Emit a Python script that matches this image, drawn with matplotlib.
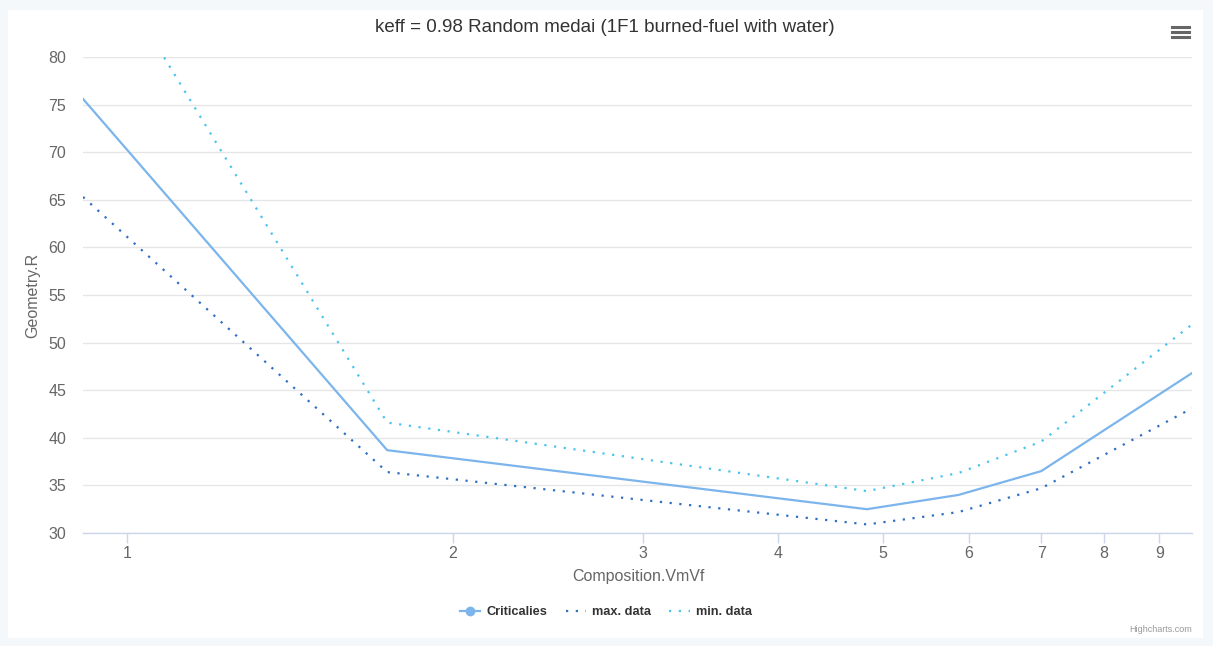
import matplotlib
matplotlib.use("Agg")
import matplotlib.pyplot as plt
from matplotlib.lines import Line2D
from matplotlib.patches import Rectangle

plt.rcParams['font.family'] = ['Liberation Sans', 'DejaVu Sans']

# Data
x_vals = [0.910, 1.739, 4.83, 5.87, 7.0, 9.65]
criticalies = [75.6, 38.7, 32.5, 34.0, 36.5, 46.8]
max_data = [65.3, 36.4, 30.9, 32.2, 34.7, 43.1]
min_data = [93.9, 41.6, 34.4, 36.3, 39.6, 51.9]
x_ticks = [1, 2, 3, 4, 5, 6, 7, 8, 9]
y_ticks = [30, 35, 40, 45, 50, 55, 60, 65, 70, 75, 80]

title = "keff = 0.98 Random medai (1F1 burned-fuel with water)"
x_title = "Composition.VmVf"
y_title = "Geometry.R"

W, H = 1213, 646
fig = plt.figure(figsize=(W / 100, H / 100), dpi=100)
fig.patch.set_facecolor('#f5f8fa')
card = Rectangle((8 / W, 1 - 638 / H), (1203 - 8) / W, (638 - 10) / H,
                 transform=fig.transFigure, facecolor='white', edgecolor='none', zorder=0)
fig.patches.append(card)

ax = fig.add_axes([83 / W, 1 - 533 / H, (1192 - 83) / W, (533 - 57) / H])
ax.set_facecolor('white')
ax.set_zorder(1)

c_crit = '#7cb5ec'
c_max = '#2f6fc4'
c_min = '#4cc4f0'

ax.plot(x_vals, criticalies, color=c_crit, lw=1.6, zorder=3)
ax.plot(x_vals, max_data, color=c_max, lw=1.6, linestyle=(0, (1, 3.4)), zorder=3)
ax.plot(x_vals, min_data, color=c_min, lw=1.6, linestyle=(0, (1, 3.4)), zorder=3)

ax.set_xscale('log')
ax.set_xlim(x_vals[0], x_vals[-1])
ax.set_ylim(30, 80)
ax.set_xticks(x_ticks)
ax.set_xticklabels([str(t) for t in x_ticks])
ax.minorticks_off()
ax.set_yticks(y_ticks)
ax.set_yticklabels([str(t) for t in y_ticks])
ax.yaxis.grid(True, color='#e6e6e6', lw=1)
ax.set_axisbelow(True)

for s in ['top', 'right', 'left']:
    ax.spines[s].set_visible(False)
ax.spines['bottom'].set_color('#ccd6eb')
ax.spines['bottom'].set_linewidth(1)
ax.spines['bottom'].set_zorder(2)

ax.tick_params(axis='x', colors='#ccd6eb', length=7, width=1, labelcolor='#666666',
               labelsize=11.5, pad=2)
ax.tick_params(axis='y', length=0, labelcolor='#666666', labelsize=11.5, pad=12)

fig.text(605 / W, 1 - 28 / H, title, ha='center', va='center', fontsize=13.5, color='#333333')
fig.text(638 / W, 1 - 577 / H, x_title, ha='center', va='center', fontsize=11.5, color='#666666')
fig.text(33 / W, 1 - 295 / H, y_title, ha='center', va='center', rotation=90,
         fontsize=11.5, color='#666666')

handles = [
    Line2D([], [], color=c_crit, lw=1.6, marker='o', markersize=6),
    Line2D([], [], color=c_max, lw=1.6, linestyle=(0, (1, 3.4))),
    Line2D([], [], color=c_min, lw=1.6, linestyle=(0, (1, 3.4))),
]
labels = ['Criticalies', 'max. data', 'min. data']
leg = fig.legend(handles, labels, loc='center', bbox_to_anchor=(606 / W, 1 - 612 / H),
                 ncol=3, frameon=False, handlelength=1.6, columnspacing=1.4,
                 handletextpad=0.5, prop={'weight': 'bold', 'size': 9.2})
for t in leg.get_texts():
    t.set_color('#333333')

# hamburger menu
for yy in [27, 32, 37]:
    fig.add_artist(Line2D([1172 / W, 1189 / W], [1 - yy / H, 1 - yy / H],
                          color='#666666', lw=2.2, transform=fig.transFigure))

fig.text(1192 / W, 1 - 630 / H, 'Highcharts.com', ha='right', va='center',
         fontsize=6.5, color='#999999')

fig.savefig('out.png', dpi=100, facecolor=fig.get_facecolor())
